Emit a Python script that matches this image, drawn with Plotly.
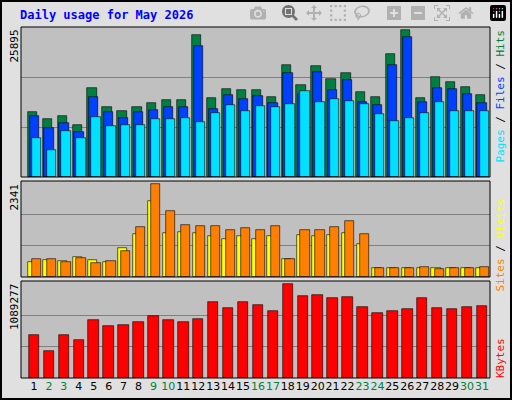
import plotly.graph_objects as go

days = list(range(1, 32))
weekend = [2, 3, 9, 10, 16, 17, 23, 24, 30, 31]
max_hits = 25895
max_visits = 2341
max_kb = 1089277

def conv(tops, base, h, m):
    return [round((base - t) / h * m) for t in tops]

hits = conv([111,118,115,124,87,106,110,106,102,99,99,34,97,88,89,89,96,64,84,65,78,72,91,96,53,29,97,76,81,86,94], 176, 149, max_hits)
files = conv([115,127,122,131,96,111,117,111,109,106,106,45,108,94,98,95,102,72,93,71,89,79,101,104,64,36,101,87,88,93,102], 176, 149, max_hits)
pages = conv([137,149,130,137,116,125,124,124,118,118,117,121,112,104,110,105,106,103,90,101,98,100,103,113,120,117,112,101,110,110,110], 176, 149, max_hits)
visits = conv([261,259,260,256,259,261,247,234,201,233,232,233,236,238,236,238,236,258,235,236,235,233,243,267,267,267,267,267,267,267,267], 276, 92, max_visits)
sites = conv([258,258,261,257,262,260,250,227,184,211,225,226,226,230,228,230,226,258,230,230,227,221,234,267,267,267,266,268,267,267,266], 276, 92, max_visits)
kbytes = conv([335,350,335,339,320,326,325,322,316,320,322,319,302,308,302,305,311,284,296,295,298,297,307,313,311,309,298,308,309,307,306], 377, 93, max_kb)

fig = go.Figure()
def bar(y, color, off, w, xa, ya):
    fig.add_trace(go.Bar(x=days, y=y, marker=dict(color=color, line=dict(color="#000000", width=0.6)),
                         offset=off, width=w, xaxis=xa, yaxis=ya, showlegend=False, hoverinfo="skip"))

bar(hits, "#008040", -0.42, 0.62, "x", "y")
bar(files, "#0040FF", -0.3, 0.62, "x", "y")
bar(pages, "#00E0FF", -0.16, 0.62, "x", "y")
bar(visits, "#FFFF00", -0.38, 0.62, "x2", "y2")
bar(sites, "#FF8000", -0.16, 0.62, "x2", "y2")
bar(kbytes, "#FF0000", -0.35, 0.7, "x3", "y3")

X = lambda px: px / 512
Y = lambda py: 1 - py / 400
xr = [0.13, 31.54]
ticktext = [f"<span style='color:{'#008040' if d in weekend else '#000000'}'>{d}</span>" for d in days]
common_x = dict(range=xr, showgrid=False, zeroline=False, domain=[X(21), X(490)], fixedrange=True)
fig.update_layout(
    width=512, height=400, margin=dict(l=0, r=0, t=0, b=0),
    paper_bgcolor="#E0E0E0", plot_bgcolor="#C0C0C0", barmode="overlay", bargap=0,
    font=dict(family="DejaVu Sans Mono", size=11, color="#000000"),
    xaxis=dict(**common_x, anchor="y", showticklabels=False, ticks=""),
    xaxis2=dict(**common_x, anchor="y2", showticklabels=False, ticks=""),
    xaxis3=dict(**common_x, anchor="y3", tickmode="array", tickvals=days, ticktext=ticktext, ticks="",
                tickangle=0, automargin=False, tickfont=dict(size=11, family="DejaVu Sans")),
    yaxis=dict(domain=[Y(177), Y(27)], range=[0, max_hits * 1.005], tickvals=[max_hits/3, 2*max_hits/3], showticklabels=False, gridcolor="#808080", zeroline=False),
    yaxis2=dict(domain=[Y(277), Y(181)], range=[0, max_visits * 1.03], tickvals=[max_visits/3, 2*max_visits/3], showticklabels=False, gridcolor="#808080", zeroline=False),
    yaxis3=dict(domain=[Y(378), Y(281)], range=[0, max_kb * 1.03], tickvals=[max_kb/3, 2*max_kb/3], showticklabels=False, gridcolor="#808080", zeroline=False),
)
shapes = [
    dict(type="rect", xref="paper", yref="paper", x0=X(1), x1=X(511), y0=Y(399), y1=Y(1), line=dict(color="#000000", width=2)),
]
for top, bot in [(27, 177), (181, 277), (281, 378)]:
    shapes.append(dict(type="rect", xref="paper", yref="paper", x0=X(21), x1=X(490), y0=Y(bot), y1=Y(top), line=dict(color="#000000", width=1)))
fig.update_layout(shapes=shapes)

def a(x, y, text, **kw):
    d = dict(x=X(x), y=Y(y), xref="paper", yref="paper", text=text, showarrow=False, font=dict(size=11))
    d.update(kw)
    return d

ann = [
    a(18, 15, "<b>Daily usage for May 2026</b>", font=dict(color="#0000FF", size=12, family="DejaVu Sans Mono"), xanchor="left", yanchor="middle"),
    a(14, 28, str(max_hits), textangle=-90, xanchor="center", yanchor="top"),
    a(14, 182, str(max_visits), textangle=-90, xanchor="center", yanchor="top"),
    a(14, 282, str(max_kb), textangle=-90, xanchor="center", yanchor="top"),
    a(500, 28, "<span style='color:#00E0FF'>Pages</span> / <span style='color:#0040FF'>Files</span> / <span style='color:#008040'>Hits</span>", textangle=-90, xanchor="center", yanchor="top"),
    a(500, 197, "<span style='color:#FF8000'>Sites</span> / <span style='color:#FFFF00'>Visits</span>", textangle=-90, xanchor="center", yanchor="top"),
    a(500, 336, "<span style='color:#FF0000'>KBytes</span>", textangle=-90, xanchor="center", yanchor="top"),
]
fig.update_layout(annotations=ann)
fig.write_html("out.html", post_script="document.body.style.margin='0';")
